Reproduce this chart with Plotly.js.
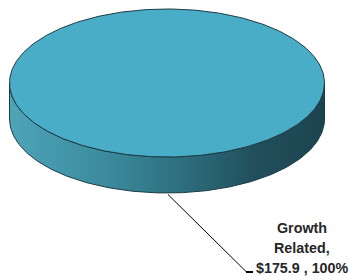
<!DOCTYPE html>
<html>
<head>
<meta charset="utf-8">
<script src="https://cdn.plot.ly/plotly-3.0.1.min.js"></script>
<style>html,body{margin:0;padding:0;background:#fff;}#chart{width:349px;height:276px;}</style>
</head>
<body>
<div id="chart"></div>
<script>
// ---- data ----
const categories = ["Growth Related"];
const values = [175.9];
const valueLabels = ["$175.9"];
const sliceColors = ["#4aadc7"];

// ---- geometry (pixel-like axis units) ----
const W = 349, H = 276;
const cx = 167, cy = 83, rx = 157.5, ry = 74, depth = 36;
const edgeColor = "#1c3b45";

const total = values.reduce((a, b) => a + b, 0);
const traces = [];
const N = 180;

let startFrac = 0;
values.forEach((v, i) => {
  const frac = v / total;
  const a0 = startFrac * 2 * Math.PI, a1 = (startFrac + frac) * 2 * Math.PI;
  // front side (visible for angles within [0, PI] in y-down coords)
  const s0 = Math.max(a0, 0), s1 = Math.min(a1, Math.PI);
  if (s1 > s0) {
    const sx = [], sy = [];
    for (let k = 0; k <= N; k++) { const t = s0 + (s1 - s0) * k / N; sx.push(cx + rx * Math.cos(t)); sy.push(cy + ry * Math.sin(t)); }
    for (let k = N; k >= 0; k--) { const t = s0 + (s1 - s0) * k / N; sx.push(cx + rx * Math.cos(t)); sy.push(cy + ry * Math.sin(t) + depth); }
    sx.push(sx[0]); sy.push(sy[0]);
    traces.push({
      type: "scatter", mode: "lines", x: sx, y: sy, fill: "toself",
      fillgradient: { type: "horizontal", colorscale: [[0, "#4fa4b8"], [0.3, "#3c8b9e"], [0.55, "#2d6e7e"], [0.78, "#214f5b"], [1, "#1c4450"]] },
      line: { color: edgeColor, width: 1 }, hoverinfo: "skip", showlegend: false
    });
  }
  // top face
  const tx = [], ty = [];
  const full = frac >= 0.9999;
  if (!full) { tx.push(cx); ty.push(cy); }
  for (let k = 0; k <= N * 2; k++) { const t = a0 + (a1 - a0) * k / (N * 2); tx.push(cx + rx * Math.cos(t)); ty.push(cy + ry * Math.sin(t)); }
  if (!full) { tx.push(cx); ty.push(cy); }
  traces.push({
    type: "scatter", mode: "lines", x: tx, y: ty, fill: "toself", fillcolor: sliceColors[i],
    line: { color: edgeColor, width: 1 }, hoverinfo: "skip", showlegend: false, name: categories[i]
  });
  startFrac += frac;
});

// leader line
traces.push({ type: "scatter", mode: "lines", x: [168, 246], y: [194.5, 271.5], line: { color: "#000", width: 1 }, hoverinfo: "skip", showlegend: false });
traces.push({ type: "scatter", mode: "lines", x: [246, 253], y: [272, 272], line: { color: "#000", width: 2 }, hoverinfo: "skip", showlegend: false });

// label lines
const pct = Math.round(values[0] / total * 100) + "%";
const words = categories[0].split(" ");
const labelLines = [words[0], words.slice(1).join(" ") + ",", valueLabels[0] + " , " + pct];
const labelY = [228, 248, 267.5];
const annotations = labelLines.map((t, j) => ({
  x: 302, y: labelY[j], xref: "x", yref: "y", text: "<b>" + t + "</b>", showarrow: false,
  xanchor: "center", yanchor: "middle",
  font: { family: "Liberation Sans, Arial, sans-serif", size: 14.3, color: "#262626" }
}));

const layout = {
  width: W, height: H, margin: { l: 0, r: 0, t: 0, b: 0 },
  paper_bgcolor: "#fff", plot_bgcolor: "#fff", showlegend: false,
  xaxis: { range: [0, W], visible: false, fixedrange: true },
  yaxis: { range: [H, 0], visible: false, fixedrange: true },
  annotations: annotations
};
Plotly.newPlot("chart", traces, layout, { staticPlot: true, displayModeBar: false });
</script>
</body>
</html>
